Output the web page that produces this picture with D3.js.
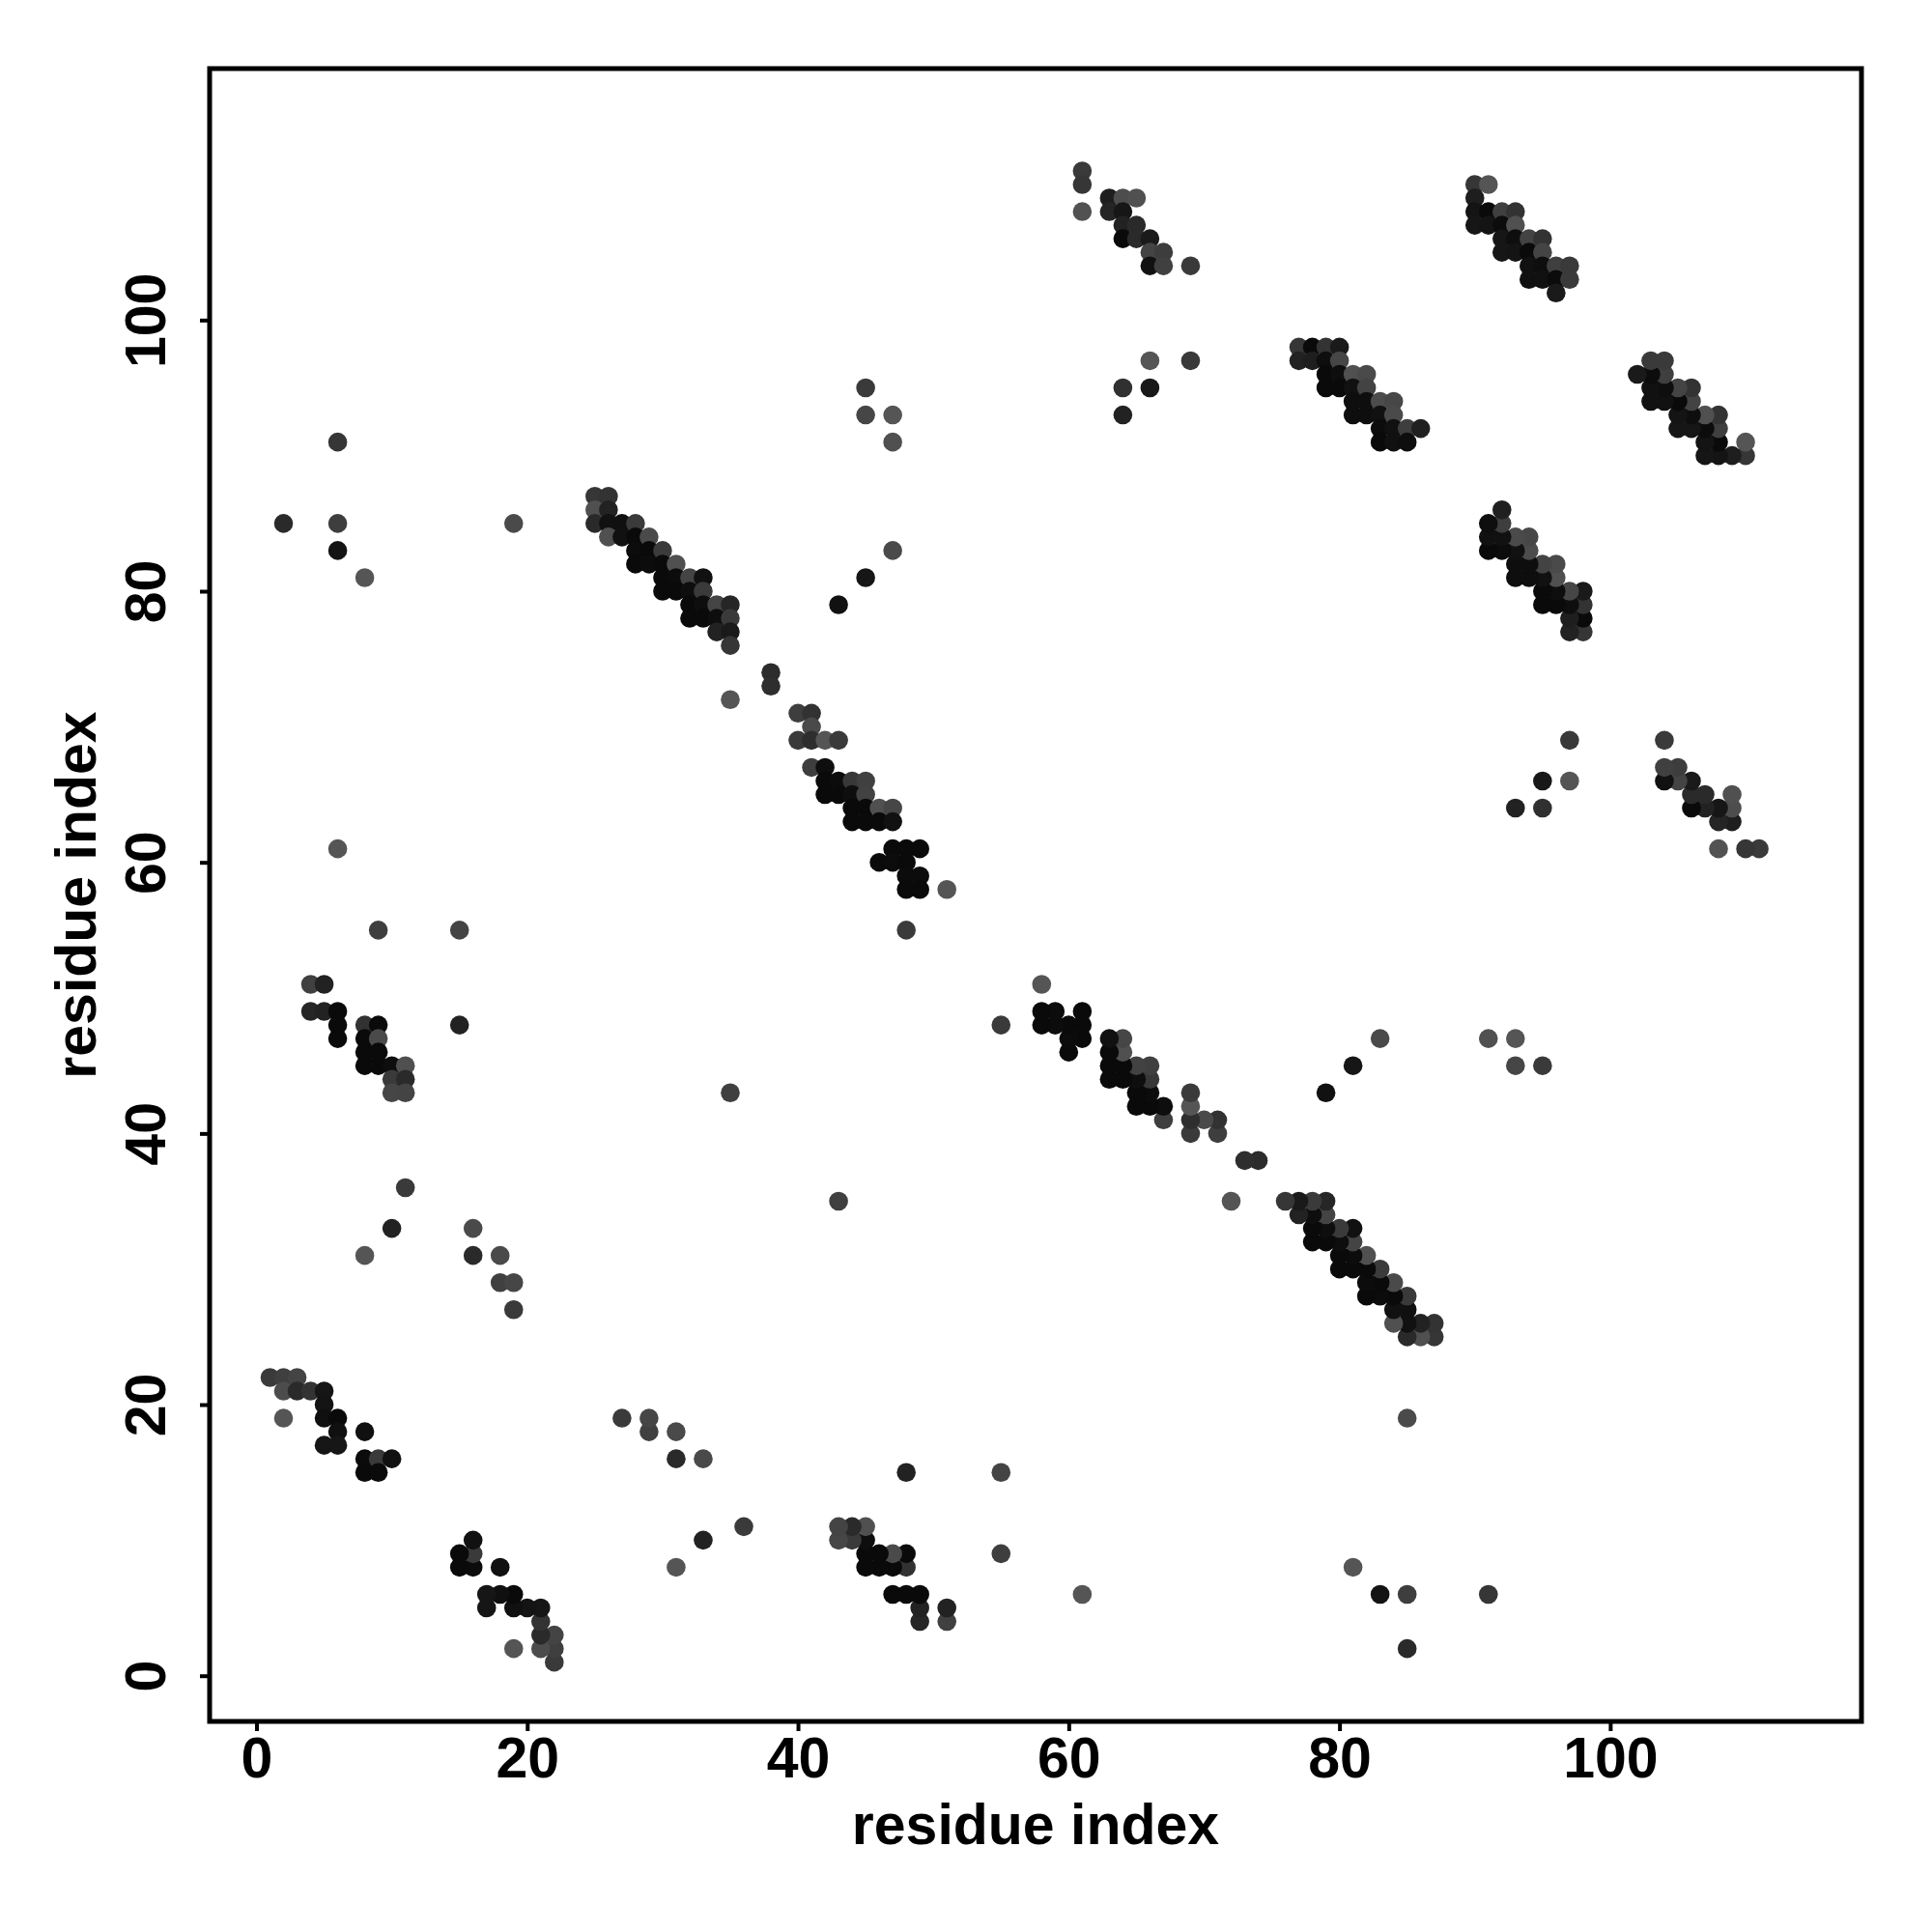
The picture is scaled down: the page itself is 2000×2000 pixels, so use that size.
<!DOCTYPE html>
<html>
<head>
<meta charset="utf-8">
<script src="https://cdn.jsdelivr.net/npm/d3@7"></script>
<style>
  body { margin: 0; background: #fff; }
  text { font-family: "Liberation Sans", Arial, Helvetica, sans-serif; font-weight: bold; }
</style>
</head>
<body>
<div id="chart"></div>
<script>
// contact pairs (i < j); the map is symmetric so each pair is drawn at (i,j) and (j,i)
const resI = [
  1,2,3,2,3,4,5,5,2,5,6,6,5,6,8,8,9,10,8,9,
  8,10,11,16,16,18,18,19,19,
  4,5,4,5,6,6,6,8,9,8,9,8,9,8,9,10,11,10,11,10,11,15,9,15,6,
  2,6,6,6,8,19,
  25,26,25,26,25,26,27,28,26,27,28,29,28,29,30,28,29,30,31,30,31,32,33,30,31,32,33,32,33,34,35,32,33,34,35,34,35,35,35,38,38,35,
  40,41,41,40,41,42,43,41,42,42,43,44,45,42,43,44,45,44,45,46,47,44,45,46,47,47,48,49,46,47,48,48,49,48,49,51,48,
  43,45,47,45,45,47,47,
  61,61,61,63,63,64,65,64,64,65,64,65,66,66,67,66,67,69,66,69,64,66,64,
  77,78,79,80,77,78,79,80,79,80,81,82,79,80,81,82,81,82,83,84,81,82,83,84,83,84,85,86,83,84,85,
  90,91,90,90,91,92,93,90,91,92,93,92,93,94,95,92,93,94,95,94,95,96,97,94,95,96,97,96
];
const resJ = [
  22,22,22,21,21,21,21,20,19,19,19,18,17,17,18,16,16,16,15,15,
  31,33,36,33,31,31,29,29,27,
  51,51,49,49,49,48,47,48,48,47,47,46,46,45,45,45,45,44,44,43,43,48,55,55,61,
  85,91,85,83,81,85,
  87,87,86,86,85,85,85,85,84,84,84,84,83,83,83,82,82,82,82,81,81,81,81,80,80,80,80,79,79,79,79,78,78,78,78,77,77,76,72,74,73,43,
  71,71,70,69,69,69,69,67,67,66,66,66,66,65,65,65,65,64,64,64,64,63,63,63,63,61,61,61,60,60,60,59,59,58,58,58,55,
  79,81,83,95,93,93,91,
  111,110,108,109,108,109,109,108,107,107,106,106,106,105,105,104,104,104,97,97,95,95,93,
  98,98,98,98,97,97,97,97,96,96,96,96,95,95,95,95,94,94,94,94,93,93,93,93,92,92,92,92,91,91,91,
  110,110,109,108,108,108,108,107,107,107,107,106,106,106,106,105,105,105,105,104,104,104,104,103,103,103,103,102
];
// grey level of each contact (0 = black)
const shade = [
  58,63,68,76,42,51,22,20,85,16,10,16,22,22,16,12,58,17,10,10,
  85,34,58,74,42,74,64,70,58,
  64,34,38,34,10,10,10,50,10,10,74,10,10,10,10,14,80,58,42,70,68,34,62,68,85,
  42,54,62,20,85,74,
  54,51,80,34,42,17,16,58,80,17,10,74,12,10,59,10,12,10,80,10,12,68,17,10,10,14,58,10,14,68,38,10,10,14,58,34,26,54,85,44,46,64,
  62,50,74,58,46,85,58,62,14,10,12,56,64,10,10,14,66,10,10,80,70,10,10,10,17,10,10,10,10,12,10,12,12,10,10,85,58,
  17,22,74,58,70,85,80,
  58,54,82,30,37,77,80,22,34,42,10,42,26,68,61,17,64,58,85,57,48,24,34,
  54,10,51,26,34,30,14,70,10,14,80,74,10,10,17,67,14,14,76,71,14,14,17,74,12,17,62,32,10,17,14,
  54,85,30,20,10,63,51,22,20,12,80,22,14,67,51,22,20,10,68,17,14,63,58,17,17,12,58,26
];
const tickVals = [0, 20, 40, 60, 80, 100];
const axisTitle = "residue index";

const margin = {top: 71, right: 73, bottom: 218, left: 217};
const width = 2000 - margin.left - margin.right;
const height = 2000 - margin.top - margin.bottom;

const svg = d3.select("#chart").append("svg")
    .attr("width", 2000)
    .attr("height", 2000)
    .append("g")
    .attr("transform", "translate(" + margin.left + "," + margin.top + ")");

const x = d3.scaleLinear().domain([-3.46, 118.56]).range([0, width]);
const y = d3.scaleLinear().domain([-3.37, 118.55]).range([height, 0]);

let pts = [];
resI.forEach(function(d, k) {
    pts.push({x: resI[k], y: resJ[k], s: shade[k]});
    pts.push({x: resJ[k], y: resI[k], s: shade[k]});
});

svg.selectAll(".dot").data(pts).enter().append("circle")
    .attr("class", "dot")
    .attr("cx", d => x(d.x))
    .attr("cy", d => y(d.y))
    .attr("r", 9.8)
    .attr("fill", d => d3.rgb(d.s, d.s, d.s));

// axes
const xAxis = svg.append("g")
    .attr("transform", "translate(0," + height + ")")
    .call(d3.axisBottom(x).tickValues(tickVals).tickSize(10).tickPadding(6));
const yAxis = svg.append("g")
    .call(d3.axisLeft(y).tickValues(tickVals).tickSize(10).tickPadding(6));

[xAxis, yAxis].forEach(function(a) {
    a.select(".domain").remove();
    a.selectAll(".tick line").attr("stroke", "#000").attr("stroke-width", 4);
    a.selectAll(".tick text").attr("fill", "#000").style("font-size", "59px");
});

yAxis.selectAll(".tick text")
    .attr("x", null).attr("dy", null)
    .attr("text-anchor", "middle")
    .attr("transform", "translate(-46,0) rotate(-90)");

// box
svg.append("rect")
    .attr("x", 0).attr("y", 0)
    .attr("width", width).attr("height", height)
    .attr("fill", "none")
    .attr("stroke", "#000")
    .attr("stroke-width", 5);

svg.append("text")
    .attr("x", width / 2)
    .attr("y", height + 127)
    .attr("text-anchor", "middle")
    .style("font-size", "59px")
    .text(axisTitle);

svg.append("text")
    .attr("transform", "translate(-118," + (height / 2) + ") rotate(-90)")
    .attr("text-anchor", "middle")
    .style("font-size", "59px")
    .text(axisTitle);
</script>
</body>
</html>
